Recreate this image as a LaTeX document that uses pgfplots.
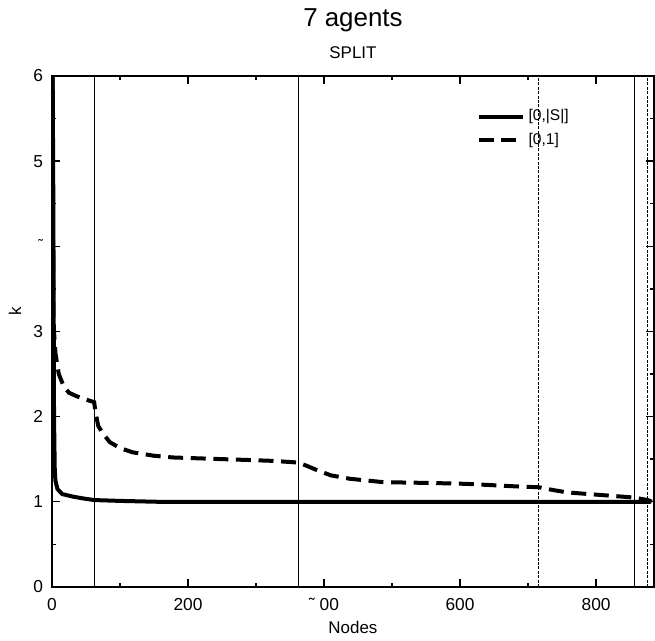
\documentclass[border=0pt]{standalone}
\usepackage{fontspec}
\setmainfont{Liberation Sans}
\usepackage{pgfplots}
\pgfplotsset{compat=1.18}

\begin{document}
\begin{tikzpicture}
\begin{axis}[
    scale only axis,
    width=301bp, height=255.5bp,
    xmin=0, xmax=885,
    ymin=0, ymax=6,
    xtick={0,200,400,600,800},
    xticklabels={0,200,˜ 00,600,800},
    ytick={0,1,2,3,4,5,6},
    yticklabels={0,1,2,3,{\raisebox{1.5bp}{\scriptsize ˜}},5,6},
    minor x tick num=1,
    minor y tick num=1,
    major tick length=4bp,
    minor tick length=2bp,
    tick style={black, line width=0.7bp},
    axis line style={line width=1.1bp},
    tick label style={font=\fontsize{8.7}{10}\selectfont},
    xticklabel style={yshift=-2bp},
    yticklabel style={xshift=-1bp},
    /pgf/number format/assume math mode=true,
    xlabel={Nodes},
    ylabel={k},
    label style={font=\fontsize{8.5}{10}\selectfont},
    xlabel style={at={(rel axis cs:0.5,0)}, anchor=center, yshift=-20.5bp},
    ylabel style={at={(rel axis cs:0,0.54)}, anchor=center, yshift=18.5bp},
    legend style={draw=none, fill=none, at={(rel axis cs:0.695,0.951)}, anchor=north west,
        font=\fontsize{7.8}{9}\selectfont, row sep=0.6bp},
    legend cell align=left,
    legend image code/.code={\draw[#1] (0cm,0cm) -- (22bp,0cm);},
]
% vertical markers
\addplot[forget plot, black, line width=0.5bp] coordinates {(62,0) (62,6)};
\addplot[forget plot, black, line width=0.5bp] coordinates {(363,0) (363,6)};
\addplot[forget plot, black, line width=0.5bp, dash pattern=on 1.5bp off 0.7bp] coordinates {(716,0) (716,6)};
\addplot[forget plot, black, line width=0.6bp] coordinates {(856,0) (856,6)};
\addplot[forget plot, black, line width=0.5bp, dash pattern=on 1.5bp off 0.7bp] coordinates {(876,0) (876,6)};

\addplot[black, line width=2bp] coordinates {
    (1,6) (2,4.5) (3,2.0) (4,1.4) (5,1.25) (8,1.15) (15,1.09) (31,1.06)
    (45,1.04) (62,1.02) (100,1.01) (154,1.0) (400,1.0) (600,1.0) (880,1.0)
};
\addlegendentry{[0,|S|]}
\addplot[black, line width=2bp, dash pattern=on 7.5bp off 3.8bp] coordinates {
    (1,6) (1.5,4) (2,3.2) (3,3.0) (5,2.75) (10,2.5) (17,2.36) (25,2.28)
    (36,2.24) (50,2.2) (62,2.17) (64,2.05) (68,1.89) (75,1.8) (85,1.70)
    (100,1.63) (119,1.58) (150,1.54) (178,1.52) (215,1.51) (252,1.50)
    (290,1.49) (325,1.48) (363,1.46) (375,1.42) (390,1.37) (410,1.31)
    (438,1.27) (487,1.23) (561,1.22) (610,1.21) (683,1.18) (716,1.17)
    (735,1.14) (757,1.11) (806,1.08) (855,1.05) (876,1.02) (882,1.0)
};
\addlegendentry{[0,1]}
\end{axis}
\node[font=\fontsize{13}{15}\selectfont] at ([yshift=28bp]current axis.north) {7 agents};
\node[font=\fontsize{8.5}{10}\selectfont] at ([yshift=11.5bp]current axis.north) {SPLIT};
\path (current axis.south west) ++(-26bp,-26bp) coordinate (bbl);
\path (current axis.north east) ++(0.5bp,38bp) coordinate (bbr);
\useasboundingbox (bbl) rectangle (bbr);
\end{tikzpicture}
\end{document}
